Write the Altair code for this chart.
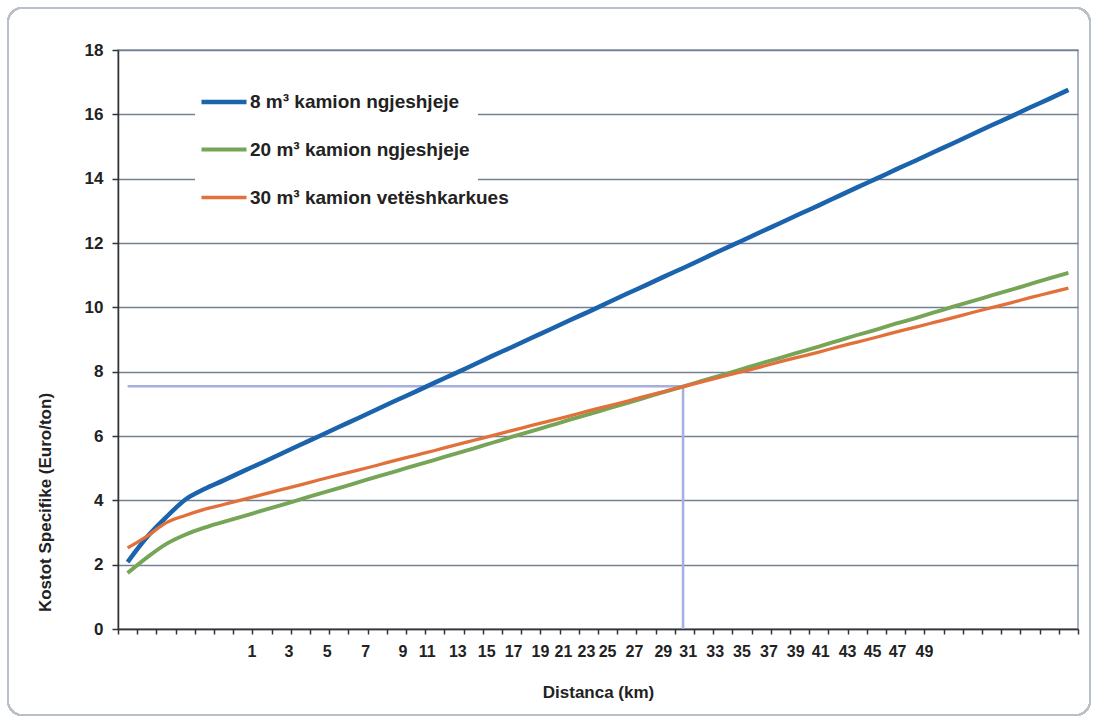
import altair as alt
import pandas as pd

# ---------------- data ----------------
series_names = ["8 m³ kamion ngjeshjeje", "20 m³ kamion ngjeshjeje", "30 m³ kamion vetëshkarkues"]
series_colors = ["#1b63ad", "#76a557", "#e2703a"]

truck_8 = [2.08, 2.85, 3.47, 4.02, 4.35, 4.62, 4.90, 5.17, 5.45, 5.73,
           6.00, 6.28, 6.55, 6.83, 7.11, 7.38, 7.66, 7.93, 8.21, 8.49,
           8.76, 9.04, 9.31, 9.59, 9.86, 10.14, 10.42, 10.69, 10.97, 11.24,
           11.52, 11.80, 12.07, 12.35, 12.62, 12.90, 13.17, 13.45, 13.73, 14.00,
           14.28, 14.55, 14.83, 15.10, 15.38, 15.66, 15.93, 16.21, 16.48, 16.76]
truck_20 = [1.74, 2.22, 2.64, 2.93, 3.15, 3.33, 3.50, 3.68, 3.85, 4.03,
            4.21, 4.38, 4.56, 4.74, 4.91, 5.09, 5.26, 5.44, 5.61, 5.79,
            5.97, 6.14, 6.32, 6.50, 6.67, 6.85, 7.02, 7.20, 7.38, 7.55,
            7.73, 7.90, 8.08, 8.26, 8.43, 8.61, 8.78, 8.96, 9.14, 9.31,
            9.49, 9.66, 9.84, 10.02, 10.19, 10.37, 10.54, 10.72, 10.90, 11.07]
truck_30 = [2.52, 2.88, 3.30, 3.53, 3.72, 3.87, 4.02, 4.18, 4.33, 4.48,
            4.64, 4.79, 4.94, 5.09, 5.25, 5.40, 5.55, 5.71, 5.86, 6.01,
            6.17, 6.32, 6.47, 6.62, 6.78, 6.93, 7.08, 7.24, 7.39, 7.54,
            7.70, 7.85, 8.00, 8.15, 8.31, 8.46, 8.61, 8.77, 8.92, 9.07,
            9.23, 9.38, 9.53, 9.68, 9.84, 9.99, 10.14, 10.30, 10.45, 10.60]

# category-axis tick labels and the tick slot each one sits at
x_labels = ["1", "3", "5", "7", "9", "11", "13", "15", "17", "19", "21", "23", "25",
            "27", "29", "31", "33", "35", "37", "39", "41", "43", "45", "47", "49"]
x_label_slot = [6.98, 8.9, 10.9, 12.9, 14.84, 16.1, 17.7, 19.2, 20.6, 22.0, 23.2, 24.4, 25.5,
                26.9, 28.4, 29.7, 31.1, 32.5, 33.9, 35.3, 36.6, 38.0, 39.3, 40.6, 42.0]

# reading guide (intersection of the 20 m³ and 30 m³ curves)
guide_slot = 29.43
guide_cost = 7.55

n_cat = 50
FONT = "Liberation Sans"
TXT = "#222222"

# ---------------- tables ----------------
rows = []
for name, vals in zip(series_names, [truck_8, truck_20, truck_30]):
    for i, v in enumerate(vals):
        rows.append({"seria": name, "pt": i, "kosto": v})
lines_df = pd.DataFrame(rows)

guide_df = pd.DataFrame({
    "x": [0.5, guide_slot], "x2": [guide_slot, guide_slot],
    "y": [guide_cost, 0.0], "y2": [guide_cost, guide_cost],
})
labels_df = pd.DataFrame({"lbl": x_labels, "slot": x_label_slot})

W, H = 960, 579

x_scale = alt.Scale(domain=[0, n_cat], nice=False, zero=False)
y_scale = alt.Scale(domain=[0, 18], nice=False)

x_axis = alt.Axis(values=list(range(n_cat + 1)), labels=False, grid=False,
                  ticks=True, tickSize=5, tickColor="#333333", tickWidth=1.5,
                  domainColor="#333333", domainWidth=1.5,
                  title="Distanca (km)", titleFont=FONT, titleFontSize=17,
                  titleFontWeight="bold", titleColor=TXT,
                  titleY=63, titleBaseline="middle")
y_axis = alt.Axis(values=list(range(0, 19, 2)), grid=True, gridColor="#75808f",
                  gridWidth=1.5, tickSize=6, tickColor="#333333", tickWidth=1.5,
                  domainColor="#333333", domainWidth=1.5,
                  labelFont=FONT, labelFontSize=17, labelFontWeight="bold",
                  labelColor=TXT, labelPadding=9,
                  title="Kostot Specifike (Euro/ton)", titleFont=FONT,
                  titleFontSize=17, titleFontWeight="bold", titleColor=TXT,
                  titleAngle=270, titleX=-73, titleY=452,
                  titleAlign="center", titleBaseline="middle")

legend_box = alt.Chart(labels_df).mark_rect(fill="white").encode(
    x=alt.value(77), x2=alt.value(360), y=alt.value(25), y2=alt.value(175))

guides = alt.Chart(guide_df).mark_rule(color="#a4aee0", strokeWidth=2.5).encode(
    x=alt.X("x:Q", scale=x_scale, axis=x_axis),
    x2="x2:Q",
    y=alt.Y("y:Q", scale=y_scale, axis=y_axis),
    y2="y2:Q",
)

lines = alt.Chart(lines_df).transform_calculate(
    slot="datum.pt + 0.5"
).mark_line(interpolate="monotone").encode(
    x=alt.X("slot:Q", scale=x_scale, axis=x_axis),
    y=alt.Y("kosto:Q", scale=y_scale, axis=y_axis),
    color=alt.Color("seria:N", sort=series_names,
                    scale=alt.Scale(domain=series_names, range=series_colors),
                    legend=alt.Legend(title=None, orient="none", legendX=81, legendY=27,
                                      symbolType="stroke", symbolSize=2025,
                                      symbolStrokeWidth=3.5, labelFont=FONT,
                                      labelFontSize=19, labelFontWeight="bold",
                                      labelColor=TXT, labelOffset=1, rowPadding=13,
                                      labelLimit=0, padding=0)),
    strokeWidth=alt.StrokeWidth("seria:N", sort=series_names,
                                scale=alt.Scale(domain=series_names, range=[4.5, 3.3, 4]),
                                legend=None),
)

tick_labels = alt.Chart(labels_df).mark_text(
    font=FONT, fontSize=16, fontWeight="bold", color=TXT,
    align="center", baseline="middle"
).encode(
    x=alt.X("slot:Q", scale=x_scale, axis=x_axis),
    y=alt.value(H + 23),
    text="lbl:N",
)

frame = alt.Chart(labels_df).mark_rect(
    filled=False, stroke="#b9c0c8", strokeWidth=1.5, cornerRadius=14
).encode(x=alt.value(8 - 118), x2=alt.value(1090 - 118),
         y=alt.value(8 - 50), y2=alt.value(715 - 50))

chart = alt.layer(legend_box, guides, lines, tick_labels, frame).properties(
    width=W, height=H,
    autosize=alt.AutoSizeParams(type="none"),
    padding={"left": 118, "top": 50, "right": 19, "bottom": 94},
    background="white",
).configure_view(stroke="#8c9bb0", strokeWidth=1.5)

chart.save("out.html", embed_options={"renderer": "svg", "actions": False})
